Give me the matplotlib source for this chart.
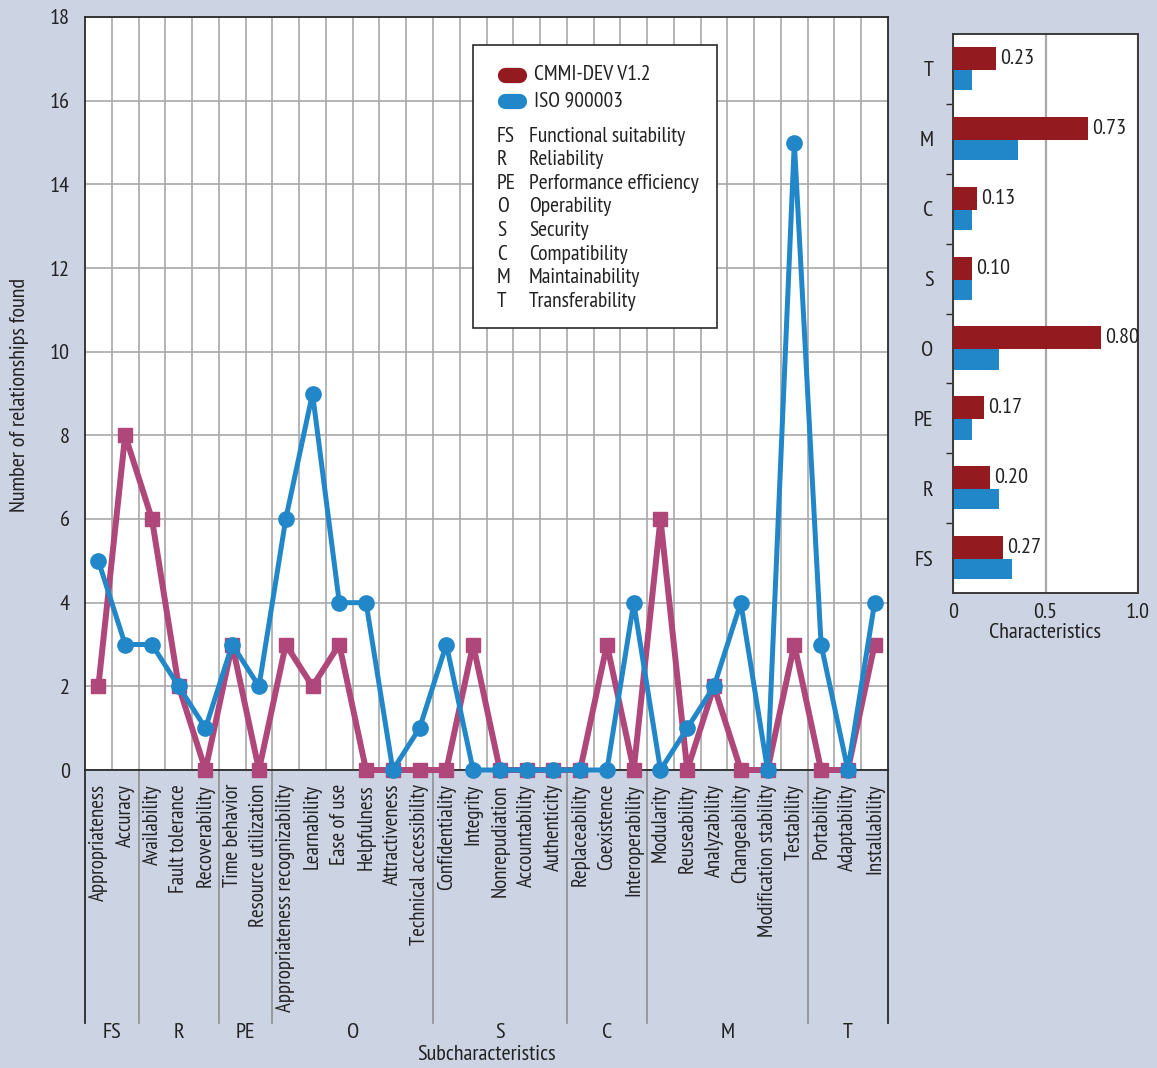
import matplotlib
matplotlib.use("Agg")
import matplotlib.pyplot as plt
from matplotlib import font_manager
from matplotlib.lines import Line2D
from matplotlib.patches import Rectangle

names = {f.name for f in font_manager.fontManager.ttflist}
fams = [f for f in ["PT Sans Narrow", "Open Sans Condensed", "Roboto Condensed"] if f in names]
plt.rcParams["font.family"] = fams[:1] + ["DejaVu Sans"]

# ---- data ----
subchars = ["Appropriateness", "Accuracy", "Availability", "Fault tolerance", "Recoverability",
            "Time behavior", "Resource utilization", "Appropriateness recognizability",
            "Learnability", "Ease of use", "Helpfulness", "Attractiveness",
            "Technical accessibility", "Confidentiality", "Integrity", "Nonrepudiation",
            "Accountability", "Authenticity", "Replaceability", "Coexistence",
            "Interoperability", "Modularity", "Reuseability", "Analyzability",
            "Changeability", "Modification stability", "Testability", "Portability",
            "Adaptability", "Installability"]
cmmi_counts = [2, 8, 6, 2, 0, 3, 0, 3, 2, 3, 0, 0, 0, 0, 3, 0, 0, 0, 0, 3,
               0, 6, 0, 2, 0, 0, 3, 0, 0, 3]
iso_counts = [5, 3, 3, 2, 1, 3, 2, 6, 9, 4, 4, 0, 1, 3, 0, 0, 0, 0, 0, 0,
              4, 0, 1, 2, 4, 0, 15, 3, 0, 4]

group_codes = ["FS", "R", "PE", "O", "S", "C", "M", "T"]
group_sizes = [2, 3, 2, 6, 5, 3, 6, 3]
group_names = ["Functional suitability", "Reliability", "Performance efficiency",
               "Operability", "Security", "Compatibility", "Maintainability",
               "Transferability"]

cmmi_share = [0.27, 0.20, 0.17, 0.80, 0.10, 0.13, 0.73, 0.23]
iso_share = [0.32, 0.25, 0.10, 0.25, 0.10, 0.10, 0.35, 0.10]

series_names = ["CMMI-DEV V1.2", "ISO 900003"]

BG = "#CCD4E3"
PINK = "#B0477A"
BLUE = "#2187C9"
DARKRED = "#931A1E"
GRID = "#A8A8A8"
SPINE = "#2A2A2A"
TXT = "#222222"
FS_ = 15

W, H = 1157, 1068
fig = plt.figure(figsize=(W / 100, H / 100), dpi=100, facecolor=BG)


def box(l, t, r, b):
    return [l / W, 1 - b / H, (r - l) / W, (b - t) / H]


# ---- main line chart ----
ax = fig.add_axes(box(85, 17, 888, 770))
xs = list(range(len(subchars)))
ax.plot(xs, cmmi_counts, color=PINK, lw=4.3, marker="s", ms=10, mec=PINK,
        clip_on=False, zorder=3)
ax.plot(xs, iso_counts, color=BLUE, lw=3.6, marker="o", ms=11, mec=BLUE,
        clip_on=False, zorder=4)
ax.set_xlim(-0.5, len(subchars) - 0.5)
ax.set_ylim(0, 18)
ax.set_yticks(range(0, 19, 2))
ax.set_xticks(xs)
ax.set_xticklabels(subchars, rotation=90, fontsize=FS_, va="top", ha="center", color=TXT)
ax.set_xticks([i + 0.5 for i in xs[:-1]], minor=True)
ax.tick_params(axis="x", which="both", length=0, pad=10)
ax.tick_params(axis="y", length=0, pad=11, labelsize=FS_ + 1, labelcolor=TXT)
ax.grid(axis="y", which="major", color=GRID, lw=1.2)
ax.grid(axis="x", which="minor", color=GRID, lw=1.2)
ax.set_axisbelow(True)
for s in ax.spines.values():
    s.set_color(SPINE)
    s.set_linewidth(1.3)

# group separators and labels below the axis
trans = ax.get_xaxis_transform()
ybot = -(1023 - 770) / 753
bounds = [-0.5]
for n in group_sizes:
    bounds.append(bounds[-1] + n)
for i, b in enumerate(bounds):
    outer = i == 0 or i == len(bounds) - 1
    ax.add_line(Line2D([b, b], [0, ybot], transform=trans, clip_on=False,
                       color=SPINE if outer else "#8E8E8E", lw=1.3 if outer else 1.2))
for i, code in enumerate(group_codes):
    mid = (bounds[i] + bounds[i + 1]) / 2
    ax.text(mid, -(1033 - 770) / 753, code, transform=trans, ha="center", va="center",
            fontsize=FS_ + 1, color=TXT)
ax.text((len(subchars) - 1) / 2, -(1055 - 770) / 753, "Subcharacteristics", transform=trans,
        ha="center", va="center", fontsize=FS_ + 1, color=TXT)
fig.text(20 / W, 1 - 395 / H, "Number of relationships found", rotation=90,
         ha="center", va="center", fontsize=FS_ + 1, color=TXT)

# legend box
lx0, ly0, lx1, ly1 = 473, 45, 717, 328
fig.patches.append(Rectangle((lx0 / W, 1 - ly1 / H), (lx1 - lx0) / W, (ly1 - ly0) / H,
                             transform=fig.transFigure, facecolor="white",
                             edgecolor=SPINE, lw=1.2, zorder=5))
for k, (name, col) in enumerate(zip(series_names, [DARKRED, BLUE])):
    yy = 1 - (75 + k * 25.5) / H
    fig.add_artist(Line2D([505 / W, 519 / W], [yy, yy], transform=fig.transFigure,
                          color=col, lw=11, solid_capstyle="round", zorder=6))
    fig.text(534 / W, yy, name, ha="left", va="center", fontsize=FS_ + 0.5, color=TXT,
             zorder=6)
for k, (code, name) in enumerate(zip(group_codes, group_names)):
    yy = 1 - (136 + k * 23.6) / H
    fig.text(497 / W, yy, code, ha="left", va="center", fontsize=FS_ + 0.5, color=TXT,
             zorder=6)
    fig.text(529 / W, yy, name, ha="left", va="center", fontsize=FS_ + 0.5, color=TXT,
             zorder=6)

# ---- characteristics bar chart ----
bx = fig.add_axes(box(953, 34, 1138, 593))
ys = list(range(len(group_codes)))
bx.barh([y + 0.15 for y in ys], cmmi_share, height=0.33, color=DARKRED, zorder=3)
bx.barh([y - 0.16 for y in ys], iso_share, height=0.29, color=BLUE, zorder=2)
for y, v in zip(ys, cmmi_share):
    bx.annotate(f"{v:.2f}", (v, y + 0.15), xytext=(3, 0), textcoords="offset points",
                ha="left", va="center", fontsize=FS_ + 1, color=TXT)
bx.set_xlim(0, 1)
bx.set_ylim(-0.5, len(group_codes) - 0.5)
bx.set_yticks(ys)
bx.set_yticklabels(group_codes, fontsize=FS_ + 1, color=TXT)
bx.set_yticks([y + 0.5 for y in ys[:-1]], minor=True)
bx.tick_params(axis="y", which="major", length=0, pad=14)
bx.tick_params(axis="y", which="minor", length=5, width=1, color=SPINE)
bx.set_xticks([0, 0.5, 1.0])
bx.set_xticklabels(["0", "0.5", "1.0"], fontsize=FS_ + 1, color=TXT)
bx.tick_params(axis="x", length=0, pad=7)
bx.grid(axis="x", color=GRID, lw=1.6)
bx.set_axisbelow(True)
bx.set_xlabel("Characteristics", fontsize=FS_ + 1, labelpad=1, color=TXT)
for s in bx.spines.values():
    s.set_color("#3A3A3A")
    s.set_linewidth(1.4)

fig.savefig("out.png", dpi=100, facecolor=BG)
